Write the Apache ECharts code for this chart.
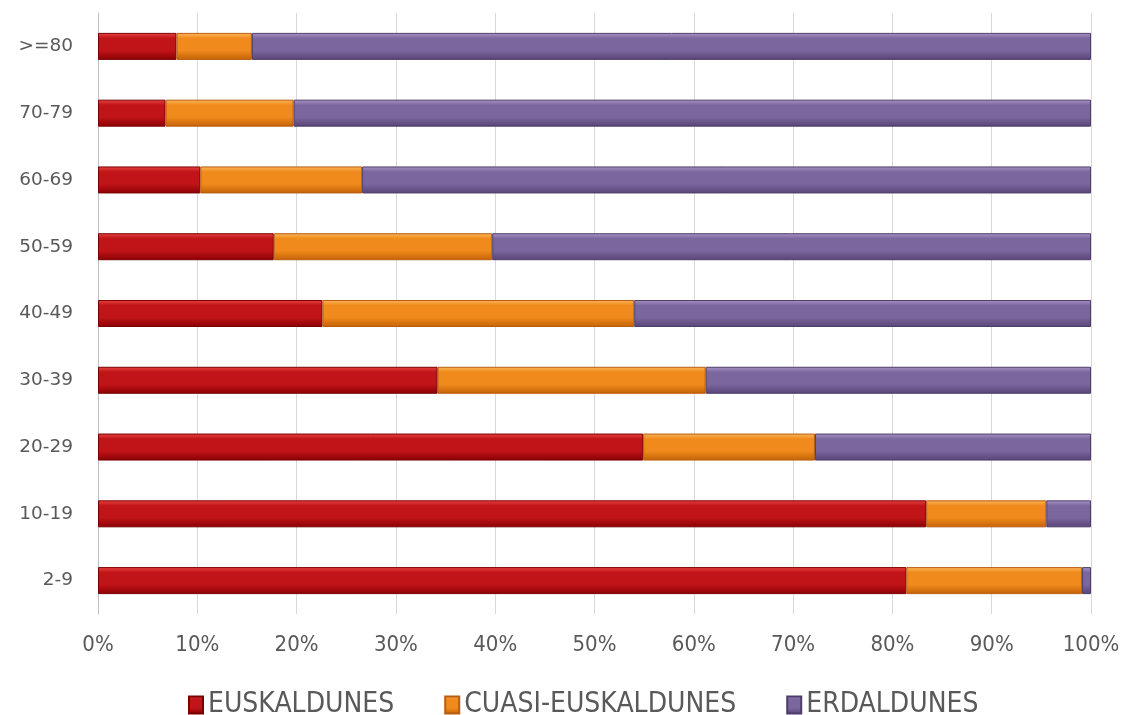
<!DOCTYPE html>
<html>
<head>
<meta charset="utf-8">
<script src="https://cdn.jsdelivr.net/npm/echarts@6/dist/echarts.min.js"></script>
<style>
html,body{margin:0;padding:0;background:#fff;}
#chart{width:1127px;height:715px;}
</style>
</head>
<body>
<div id="chart"></div>
<script>
const categories = ['2-9','10-19','20-29','30-39','40-49','50-59','60-69','70-79','>=80'];
const euskaldunes = [81.4, 83.4, 54.9, 34.2, 22.6, 17.7, 10.3, 6.8, 7.9];
const cuasiEuskaldunes = [17.7, 12.1, 17.3, 27.0, 31.4, 22.0, 16.3, 12.9, 7.6];
const erdaldunes = [0.9, 4.5, 27.8, 38.8, 46.0, 60.3, 73.4, 80.3, 84.5];
const xTicks = [0,10,20,30,40,50,60,70,80,90,100];

function grad(top, mid, bot){
  return new echarts.graphic.LinearGradient(0,0,0,1,[
    {offset:0,color:top},{offset:0.2,color:mid},{offset:0.65,color:mid},{offset:1,color:bot}
  ]);
}
const chart = echarts.init(document.getElementById('chart'));
const narrow = "'Liberation Sans Narrow','DejaVu Sans Condensed',sans-serif";
function series(name, data, top, mid, bot, border){
  return {
    name, type:'bar', stack:'total', data, barWidth:27,
    itemStyle:{color:grad(top,mid,bot), borderColor:border, borderWidth:1},
    emphasis:{disabled:true}
  };
}
chart.setOption({
  animation:false,
  backgroundColor:'#fff',
  color:['#b80f14','#f08616','#77619a'],
  grid:{left:98,right:36,top:13,bottom:101,containLabel:false},
  legend:{
    top:686,left:183,itemWidth:14,itemHeight:17,itemGap:50,
    icon:'rect',
    textStyle:{fontFamily:narrow,fontSize:28,color:'#595959'},
    data:['EUSKALDUNES','CUASI-EUSKALDUNES','ERDALDUNES']
  },
  xAxis:{
    type:'value',min:0,max:100,interval:10,
    axisLine:{show:false},axisTick:{show:false},
    splitLine:{show:true,lineStyle:{color:'#d9d9d9',width:1}},
    axisLabel:{formatter:'{value}%',fontFamily:narrow,fontSize:22,color:'#595959',margin:20}
  },
  yAxis:{
    type:'category',data:categories,
    axisLine:{show:true,lineStyle:{color:'#bfbfbf'}},
    axisTick:{show:false},
    axisLabel:{fontFamily:"'DejaVu Sans',sans-serif",fontSize:18.5,color:'#595959',margin:25}
  },
  series:[
    series('EUSKALDUNES',euskaldunes,'#ea4442','#c01418','#8a0004','#7a0000'),
    series('CUASI-EUSKALDUNES',cuasiEuskaldunes,'#fcb85c','#f08a1c','#c46206','#b85c10'),
    series('ERDALDUNES',erdaldunes,'#aa96c8','#7c669e','#584476','#4e3d6a')
  ]
});
</script>
</body>
</html>
